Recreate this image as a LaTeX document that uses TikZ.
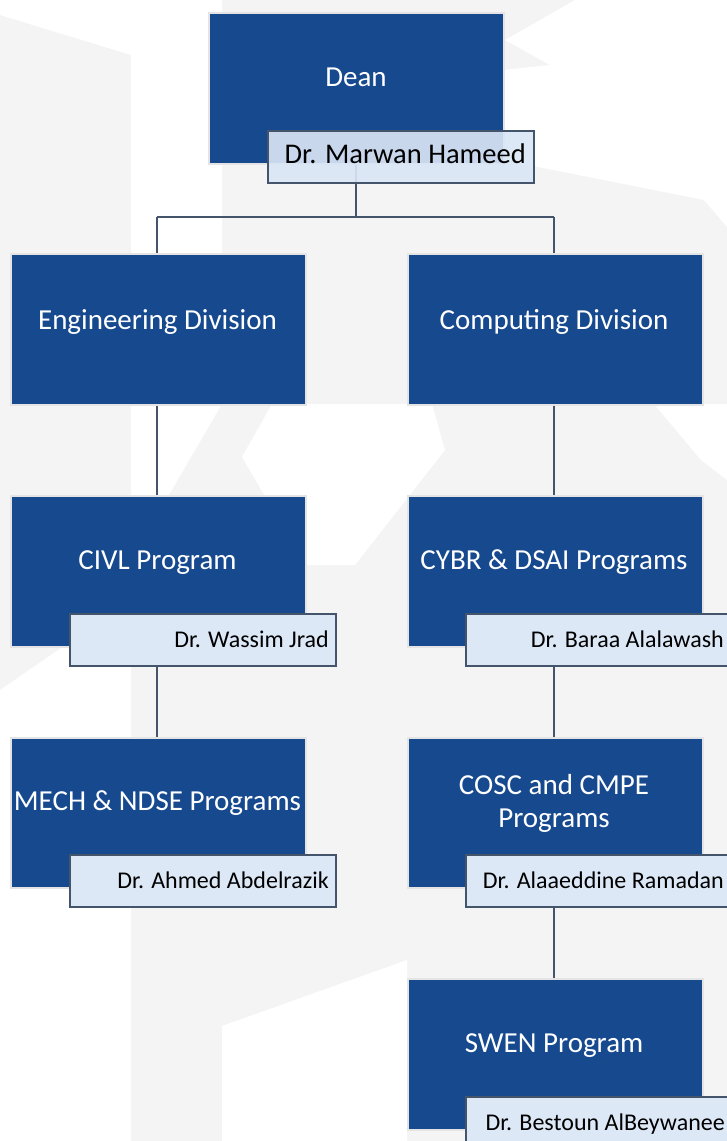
\documentclass[tikz,border=0pt]{standalone}
\usepackage{fontspec}
\setmainfont{Carlito}
\definecolor{boxblue}{RGB}{23,73,143}
\definecolor{namefill}{RGB}{221,232,247}
\definecolor{namefillT}{RGB}{218,230,246}
\definecolor{slate}{RGB}{68,84,106}
\definecolor{bggray}{RGB}{244,244,244}
\definecolor{boxedge}{RGB}{228,228,228}
\tikzset{
  unitbox/.style={draw=boxedge, line width=1.6pt, fill=boxblue, anchor=north west, minimum width=295pt, minimum height=151pt, inner sep=0pt},
  namebox/.style={draw=slate, line width=2.2pt, fill=namefill, anchor=north west, minimum width=266pt, minimum height=52pt, inner sep=0pt},
  seethrough/.style={fill=namefillT, fill opacity=0.91, draw opacity=1},
  boxtext/.style={text=white, font=\fontsize{29}{33}\selectfont, anchor=base, inner sep=0pt, align=center},
  nametext/.style={text=black, font=\fontsize{24}{28}\selectfont, anchor=base east, inner sep=0pt},
  link/.style={draw=slate, line width=2.3pt}
}
\begin{document}
\begin{tikzpicture}[x=1pt,y=-1pt]
\useasboundingbox (0,0) rectangle (727,1141);
\clip (0,0) rectangle (727,1141);
% faint watermark background
\fill[bggray] (0,0) rectangle (727,1141);
\fill[white] (0,0) -- (222,0) -- (222,404) -- (131,560) -- (131,55) -- (0,15) -- cycle;
\fill[white] (272,404) -- (432,404) -- (445,450) -- (355,565) -- (305,565) -- (242,457) -- cycle;
\fill[white] (575,0) -- (727,0) -- (727,227) -- (704,200) -- (503,160) -- (503,70) -- (550,65) -- (505,40) -- cycle;
\fill[white] (654,404) -- (727,404) -- (727,480) -- (701,460) -- cycle;
\fill[white] (0,690) -- (131,600) -- (131,1141) -- (0,1141) -- cycle;
\fill[white] (222,1026) -- (407,960) -- (407,1141) -- (222,1141) -- cycle;

\coordinate (top) at (356,217);
\coordinate (engtop) at (157,217);
\coordinate (comptop) at (554,217);

% blue unit boxes
\node[unitbox] (dean) at (208,12) {};
\node[unitbox] (eng) at (10,253) {};
\node[unitbox] (comp) at (407,253) {};
\node[unitbox] (civl) at (10,495) {};
\node[unitbox] (cybr) at (407,495) {};
\node[unitbox, minimum height=150pt] (mech) at (10,737) {};
\node[unitbox, minimum height=150pt] (cosc) at (407,737) {};
\node[unitbox] (swen) at (407,978) {};

% connectors
\draw[link] (dean.south -| top) -- (top);
\draw[link] (engtop) -- (comptop);
\draw[link] (engtop) -- (eng.north -| engtop);
\draw[link] (comptop) -- (comp.north -| comptop);
\draw[link] (eng.south -| engtop) -- (civl.north -| engtop);
\draw[link] (comp.south -| comptop) -- (cybr.north -| comptop);

% name boxes
\node[namebox, seethrough] (marwan) at (267,130) {};
\node[namebox] (wassim) at (69,613) {};
\node[namebox] (baraa) at (465,613) {};
\node[namebox] (ahmed) at (69,854) {};
\node[namebox] (alaa) at (465,854) {};
\node[namebox] (bestoun) at (465,1096) {};

\draw[link] (wassim.south -| engtop) -- (mech.north -| engtop);
\draw[link] (baraa.south -| comptop) -- (cosc.north -| comptop);
\draw[link] (alaa.south -| comptop) -- (swen.north -| comptop);

% texts
\node[boxtext] (deanT) at (356,86) {Dean};
\node[boxtext] (engT) at (157.5,329) {Engineering Division};
\node[boxtext] (compT) at (554,329) {Computing Division};
\node[boxtext] (civlT) at (157.5,569) {CIVL Program};
\node[boxtext] (cybrT) at (554,569) {CYBR \& DSAI Programs};
\node[boxtext] (mechT) at (157.5,810) {MECH \& NDSE Programs};
\node[boxtext] (coscT) at (554,794) {COSC and CMPE};
\node[boxtext] (coscT2) at (554,827) {Programs};
\node[boxtext] (swenT) at (554,1052) {SWEN Program};

\node[nametext, font=\fontsize{28.5}{32}\selectfont] (marwanT) at (526,163) {Dr. Marwan Hameed};
\node[nametext] (wassimT) at (329,647) {Dr. Wassim Jrad};
\node[nametext] (baraaT) at (724,647) {Dr. Baraa Alalawash};
\node[nametext] (ahmedT) at (329,888) {Dr. Ahmed Abdelrazik};
\node[nametext] (alaaT) at (724,888) {Dr. Alaaeddine Ramadan};
\node[nametext] (bestounT) at (725,1130) {Dr. Bestoun AlBeywanee};
\end{tikzpicture}
\end{document}
